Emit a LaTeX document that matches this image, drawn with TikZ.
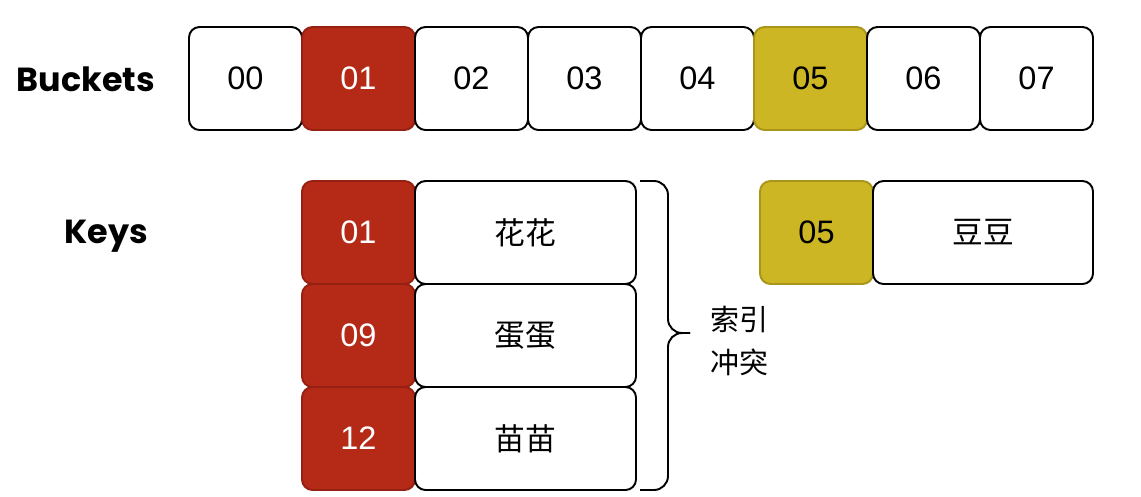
\documentclass[tikz,border=0pt]{standalone}
\usepackage{fontspec}
\setmainfont{Liberation Sans}
\newfontfamily\cjk{Noto Sans CJK SC}
\newfontfamily\labelfont{Poppins}
\usepackage{xcolor}
\usepackage{tikz}
\usetikzlibrary{positioning}

\definecolor{hashred}{HTML}{B52A17}
\definecolor{hashredline}{HTML}{962012}
\definecolor{hashgold}{HTML}{CDB623}
\definecolor{hashgoldline}{HTML}{A8951A}

\begin{document}
\begin{tikzpicture}[
    node distance=0pt,
    cell/.style={rectangle, draw=black, fill=white, line width=1.1pt, rounded corners=6pt, minimum width=2.26cm, minimum height=2.06cm, outer sep=0pt, font=\fontsize{18.5}{20}\selectfont},
    redcell/.style={cell, draw=hashredline, fill=hashred, text=white},
    goldcell/.style={cell, draw=hashgoldline, fill=hashgold},
    valcell/.style={cell, minimum width=4.42cm, font=\cjk\fontsize{17.5}{20}\selectfont},
    rowlabel/.style={font=\labelfont\bfseries\fontsize{19}{22}\selectfont},
    bracket/.style={draw=black, line width=1.1pt, rounded corners=8pt}
]
    \useasboundingbox (0,0) rectangle (22.82,-9.92);

    % bucket row
    \node[rowlabel] (lbuckets) at (1.72,-1.58) {Buckets};
    \node[cell] (b0) at (4.91,-1.57) {00};
    \node[redcell, right=of b0] (b1) {01};
    \node[cell, right=of b1] (b2) {02};
    \node[cell, right=of b2] (b3) {03};
    \node[cell, right=of b3] (b4) {04};
    \node[goldcell, right=of b4] (b5) {05};
    \node[cell, right=of b5] (b6) {06};
    \node[cell, right=of b6] (b7) {07};

    % keys in bucket 01
    \node[rowlabel] (lkeys) at (2.12,-4.72) {Keys};
    \node[redcell] (k1) at (7.17,-4.65) {01};
    \node[redcell, below=of k1] (k2) {09};
    \node[redcell, below=of k2] (k3) {12};
    \node[valcell, right=of k1] (v1) {花花};
    \node[valcell, right=of k2] (v2) {蛋蛋};
    \node[valcell, right=of k3] (v3) {苗苗};

    % keys in bucket 05
    \node[goldcell] (k5) at (16.33,-4.65) {05};
    \node[valcell, right=of k5, minimum width=4.4cm] (v5) {豆豆};

    % collision brace
    \coordinate (tip) at ([xshift=1.08cm, yshift=0.05cm]v2.east);
    \draw[bracket] ([xshift=0.08cm]v1.north east) -- ++(0.56,0) |- (tip);
    \draw[bracket] ([xshift=0.08cm]v3.south east) -- ++(0.56,0) |- (tip);
    \node[anchor=west, align=left, inner sep=0pt, font=\cjk\fontsize{16.5}{24.5}\selectfont] (clash) at (14.2,-6.82) {索引\\冲突};
\end{tikzpicture}
\end{document}
